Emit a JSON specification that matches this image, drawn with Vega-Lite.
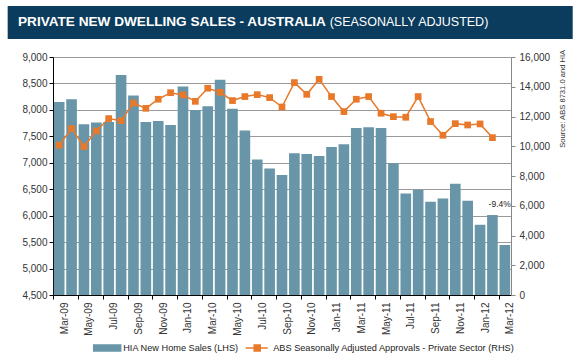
{
  "$schema": "https://vega.github.io/schema/vega-lite/v6.json",
  "padding": {"left": 7, "top": 6, "right": 5, "bottom": 0},
  "background": "white",
  "config": {
    "font": "Liberation Sans",
    "view": {"stroke": null},
    "axis": {"labelFont": "Liberation Sans", "labelColor": "#333333", "labelFontSize": 10, "labelOverlap": false}
  },
  "spacing": 10,
  "vconcat": [
    {
      "width": 519.7,
      "height": 33,
      "data": {"values": [{}]},
      "layer": [
        {
          "mark": {"type": "rect", "color": "#0B3C5D"},
          "encoding": {
            "x": {"datum": -0.0872, "type": "quantitative", "scale": {"domain": [0, 1]}, "axis": null},
            "x2": {"datum": 1},
            "y": {"datum": 0, "type": "quantitative", "scale": {"domain": [0, 1]}, "axis": null},
            "y2": {"datum": 1}
          }
        },
        {
          "mark": {"type": "text", "text": "PRIVATE NEW DWELLING SALES -  AUSTRALIA", "font": "Liberation Sans", "fontSize": 13.6, "fontWeight": "bold", "color": "white", "align": "left", "baseline": "alphabetic"},
          "encoding": {
            "x": {"datum": -0.0673, "type": "quantitative"},
            "y": {"datum": 0.394, "type": "quantitative"}
          }
        },
        {
          "mark": {"type": "text", "text": "(SEASONALLY ADJUSTED)", "font": "Liberation Sans", "fontSize": 12.5, "fontWeight": "normal", "color": "white", "align": "left", "baseline": "alphabetic"},
          "encoding": {
            "x": {"datum": 0.5324, "type": "quantitative"},
            "y": {"datum": 0.394, "type": "quantitative"}
          }
        }
      ]
    },
    {
      "width": 458,
      "height": 238,
      "data": {
        "values": [
          {"month": "Mar-09", "sales": 8150, "approvals": 10070},
          {"month": "Apr-09", "sales": 8200, "approvals": 11190},
          {"month": "May-09", "sales": 7730, "approvals": 9980},
          {"month": "Jun-09", "sales": 7760, "approvals": 11030},
          {"month": "Jul-09", "sales": 7770, "approvals": 11860},
          {"month": "Aug-09", "sales": 8660, "approvals": 11720},
          {"month": "Sep-09", "sales": 8270, "approvals": 12910},
          {"month": "Oct-09", "sales": 7770, "approvals": 12550},
          {"month": "Nov-09", "sales": 7790, "approvals": 13160},
          {"month": "Dec-09", "sales": 7715, "approvals": 13600},
          {"month": "Jan-10", "sales": 8440, "approvals": 13450},
          {"month": "Feb-10", "sales": 8000, "approvals": 13020},
          {"month": "Mar-10", "sales": 8070, "approvals": 13900},
          {"month": "Apr-10", "sales": 8570, "approvals": 13630},
          {"month": "May-10", "sales": 8020, "approvals": 13070},
          {"month": "Jun-10", "sales": 7610, "approvals": 13340},
          {"month": "Jul-10", "sales": 7060, "approvals": 13470},
          {"month": "Aug-10", "sales": 6890, "approvals": 13270},
          {"month": "Sep-10", "sales": 6770, "approvals": 12640},
          {"month": "Oct-10", "sales": 7180, "approvals": 14280},
          {"month": "Nov-10", "sales": 7165, "approvals": 13490},
          {"month": "Dec-10", "sales": 7127, "approvals": 14500},
          {"month": "Jan-11", "sales": 7297, "approvals": 13340},
          {"month": "Feb-11", "sales": 7348, "approvals": 12330},
          {"month": "Mar-11", "sales": 7657, "approvals": 13160},
          {"month": "Apr-11", "sales": 7670, "approvals": 13340},
          {"month": "May-11", "sales": 7657, "approvals": 12220},
          {"month": "Jun-11", "sales": 6990, "approvals": 11990},
          {"month": "Jul-11", "sales": 6421, "approvals": 11950},
          {"month": "Aug-11", "sales": 6490, "approvals": 13340},
          {"month": "Sep-11", "sales": 6263, "approvals": 11660},
          {"month": "Oct-11", "sales": 6325, "approvals": 10740},
          {"month": "Nov-11", "sales": 6603, "approvals": 11520},
          {"month": "Dec-11", "sales": 6282, "approvals": 11430},
          {"month": "Jan-12", "sales": 5828, "approvals": 11500},
          {"month": "Feb-12", "sales": 6012, "approvals": 10580},
          {"month": "Mar-12", "sales": 5445, "approvals": null}
        ]
      },
      "encoding": {
        "x": {
          "field": "month",
          "type": "ordinal",
          "sort": null,
          "scale": {"paddingInner": 0.14, "paddingOuter": 0.07},
          "axis": {
            "values": ["Mar-09", "May-09", "Jul-09", "Sep-09", "Nov-09", "Jan-10", "Mar-10", "May-10", "Jul-10", "Sep-10", "Nov-10", "Jan-11", "Mar-11", "May-11", "Jul-11", "Sep-11", "Nov-11", "Jan-12", "Mar-12"],
            "labelAngle": -90,
            "labelAlign": "right",
            "labelBaseline": "middle",
            "bandPosition": 0,
            "labelOffset": 5.5,
            "tickSize": 4,
            "tickColor": "black",
            "domainColor": "black",
            "labelPadding": 3,
            "labelOverlap": false,
            "grid": false,
            "title": null
          }
        }
      },
      "layer": [
        {
          "encoding": {
            "y": {
              "field": "sales",
              "type": "quantitative",
              "scale": {"domain": [4500, 9000], "zero": false, "nice": false},
              "axis": {
                "values": [4500, 5000, 5500, 6000, 6500, 7000, 7500, 8000, 8500, 9000],
                "format": ",.0f",
                "grid": true,
                "gridColor": "#9a9a9a",
                "tickSize": 4,
                "tickColor": "black",
                "domainColor": "black",
                "labelPadding": 2,
                "labelOverlap": false,
                "minExtent": 46,
                "title": null
              }
            }
          },
          "layer": [
            {
              "mark": {"type": "bar", "color": "#6896A8"},
              "encoding": {
                "y2": {"datum": 4500},
                "color": {
                  "datum": "HIA New Home Sales (LHS)",
                  "type": "nominal",
                  "scale": {
                    "domain": ["HIA New Home Sales (LHS)", "ABS Seasonally Adjusted Approvals - Private Sector (RHS)"],
                    "range": ["#6896A8", "#E8792B"]
                  },
                  "legend": {
                    "orient": "none",
                    "legendX": 40.2,
                    "legendY": 336,
                    "direction": "horizontal",
                    "title": null,
                    "padding": 0,
                    "symbolSize": 100,
                    "symbolOffset": 8,
                    "labelOffset": 10,
                    "columnPadding": 3,
                    "labelLimit": 0,
                    "labelFontSize": 9.2,
                    "labelFont": "Liberation Sans",
                    "labelColor": "#222222",
                    "encode": {
                      "symbols": {
                        "update": {
                          "shape": {"signal": "datum.value === 'HIA New Home Sales (LHS)' ? 'M-2.7,-0.6H2.7V0.6H-2.7Z' : 'M-2.3,0H2.1M-0.6,-0.6H0.6V0.6H-0.6Z'"},
                          "fill": {"signal": "datum.value === 'HIA New Home Sales (LHS)' ? '#6896A8' : '#E8792B'"},
                          "stroke": {"signal": "datum.value === 'HIA New Home Sales (LHS)' ? '#6896A8' : '#E8792B'"},
                          "strokeWidth": {"value": 1.5},
                          "opacity": {"value": 1},
                          "fillOpacity": {"value": 1}
                        }
                      }
                    }
                  }
                }
              }
            },
            {
              "transform": [{"filter": "datum.month === 'Mar-12'"}],
              "mark": {"type": "text", "text": "-9.4%", "fontSize": 8.5, "align": "right", "dx": 6, "baseline": "middle", "color": "#222222"},
              "encoding": {
                "y": {"datum": 6215, "type": "quantitative"}
              }
            }
          ]
        },
        {
          "mark": {"type": "line", "color": "#E8792B", "strokeWidth": 1.5, "point": {"shape": "square", "size": 45, "filled": true, "color": "#E8792B"}},
          "encoding": {
            "y": {
              "field": "approvals",
              "type": "quantitative",
              "scale": {"domain": [0, 16000], "nice": false},
              "axis": {
                "orient": "right",
                "values": [0, 2000, 4000, 6000, 8000, 10000, 12000, 14000, 16000],
                "format": ",.0f",
                "grid": false,
                "tickSize": 4,
                "tickColor": "#888888",
                "domainColor": "#888888",
                "labelPadding": 4,
                "labelOverlap": false,
                "title": "Source: ABS 8731.0 and HIA",
                "titleAngle": 270,
                "titleAnchor": "end",
                "titleAlign": "right",
                "titleY": -7.7,
                "titleFontSize": 7.6,
                "titleFontWeight": "normal",
                "titleColor": "#333333",
                "titlePadding": 17
              }
            },
            "color": {"datum": "ABS Seasonally Adjusted Approvals - Private Sector (RHS)", "type": "nominal"}
          }
        }
      ],
      "resolve": {"scale": {"y": "independent"}}
    }
  ]
}
